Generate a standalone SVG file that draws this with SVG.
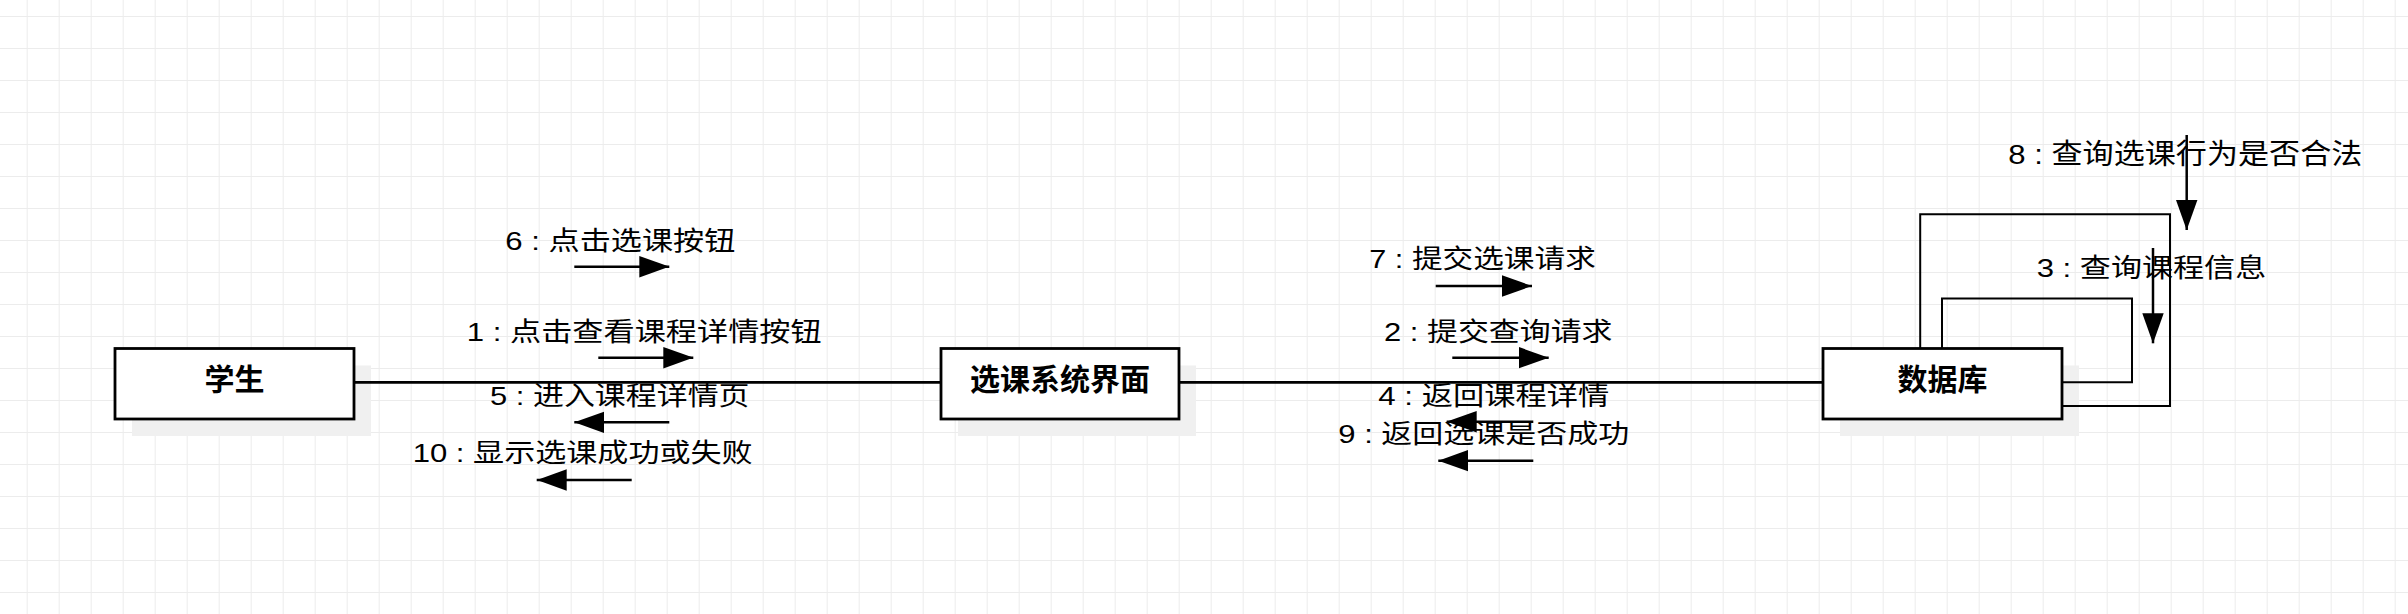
<svg xmlns="http://www.w3.org/2000/svg" width="2408" height="614" viewBox="0 0 2408 614">
<defs>
<pattern id="grid" x="26.7" y="16" width="32" height="32" patternUnits="userSpaceOnUse">
<path d="M0 0.5 H32 M0.5 0 V32" fill="none" stroke="#ececec" stroke-width="1"/>
</pattern>
<marker id="ah" markerUnits="userSpaceOnUse" markerWidth="30" markerHeight="22" viewBox="0 0 28 20" refX="28" refY="10" orient="auto">
<path d="M0 0 L28 10 L0 20 Z" fill="#000"/>
</marker>
<style>
.box{fill:#fff;stroke:#000;stroke-width:2.8}
.shadow{fill:#f0f0f0}
.name{font-family:"Liberation Sans","Noto Sans CJK SC",sans-serif;font-size:30px;font-weight:bold;text-anchor:middle;fill:#000}
.conn{fill:none;stroke:#000;stroke-width:2.8}
.loop{fill:none;stroke:#000;stroke-width:2}
.msg{fill:none;stroke:#000;stroke-width:2.5;marker-end:url(#ah)}
.lbl{font-family:"Liberation Sans","Noto Sans CJK SC",sans-serif;font-size:26.5px;fill:#000}
.lbl8{font-size:28.5px}
</style>
</defs>
<rect width="2408" height="614" fill="#fff"/>
<rect width="2408" height="614" fill="url(#grid)"/>

<g id="node-student">
<rect class="shadow" x="132" y="365.5" width="239" height="70.5"/>
<rect class="box" x="115" y="348.5" width="239" height="70.5"/>
<text class="name" x="234.5" y="390">学生</text>
</g>
<g id="node-ui">
<rect class="shadow" x="958" y="365.5" width="238" height="70.5"/>
<rect class="box" x="941" y="348.5" width="238" height="70.5"/>
<text class="name" x="1060" y="390">选课系统界面</text>
</g>
<g id="node-db">
<rect class="shadow" x="1840" y="365.5" width="239" height="70.5"/>
<rect class="box" x="1823" y="348.5" width="239" height="70.5"/>
<text class="name" x="1942.5" y="390">数据库</text>
</g>

<g id="connectors">
<path class="conn" d="M354 382.3 H941"/>
<path class="conn" d="M1179 382.3 H1823"/>
<path class="loop" d="M1920.2 348.5 V214.3 H2170 V406 H2062"/>
<path class="loop" d="M1942 348.5 V298.5 H2132 V382.3 H2062"/>
<path class="msg" d="M574.3 266.7 H669.3"/>
<path class="msg" d="M598.3 357.7 H693.3"/>
<path class="msg" d="M669.3 422.3 H574.3"/>
<path class="msg" d="M631.7 480 H536.7"/>
<path class="msg" d="M1435.7 286 H1532"/>
<path class="msg" d="M1452.3 357.7 H1548.7"/>
<path class="msg" d="M1533.3 421.7 H1446.7"/>
<path class="msg" d="M1533.3 460.7 H1438.3"/>
<path class="msg" d="M2186.7 135 V230"/>
<path class="msg" d="M2153 248 V343.3"/>
</g>

<g id="labels">
<text class="lbl" x="505.3" y="249.5" textLength="230" lengthAdjust="spacingAndGlyphs">6 : 点击选课按钮</text>
<text class="lbl" x="466.7" y="340.7" textLength="355" lengthAdjust="spacingAndGlyphs">1 : 点击查看课程详情按钮</text>
<text class="lbl" x="490" y="404.5" textLength="259.5" lengthAdjust="spacingAndGlyphs">5 : 进入课程详情页</text>
<text class="lbl" x="412.7" y="462.3" textLength="340" lengthAdjust="spacingAndGlyphs">10 : 显示选课成功或失败</text>
<text class="lbl" x="1369.3" y="268.3" textLength="226.5" lengthAdjust="spacingAndGlyphs">7 : 提交选课请求</text>
<text class="lbl" x="1384" y="341" textLength="228.5" lengthAdjust="spacingAndGlyphs">2 : 提交查询请求</text>
<text class="lbl" x="1378.3" y="405" textLength="231" lengthAdjust="spacingAndGlyphs">4 : 返回课程详情</text>
<text class="lbl" x="1338.3" y="443.3" textLength="291" lengthAdjust="spacingAndGlyphs">9 : 返回选课是否成功</text>
<text class="lbl lbl8" x="2008.3" y="164" textLength="354" lengthAdjust="spacingAndGlyphs">8 : 查询选课行为是否合法</text>
<text class="lbl" x="2036.7" y="276.7" textLength="229.5" lengthAdjust="spacingAndGlyphs">3 : 查询课程信息</text>
</g>
</svg>
